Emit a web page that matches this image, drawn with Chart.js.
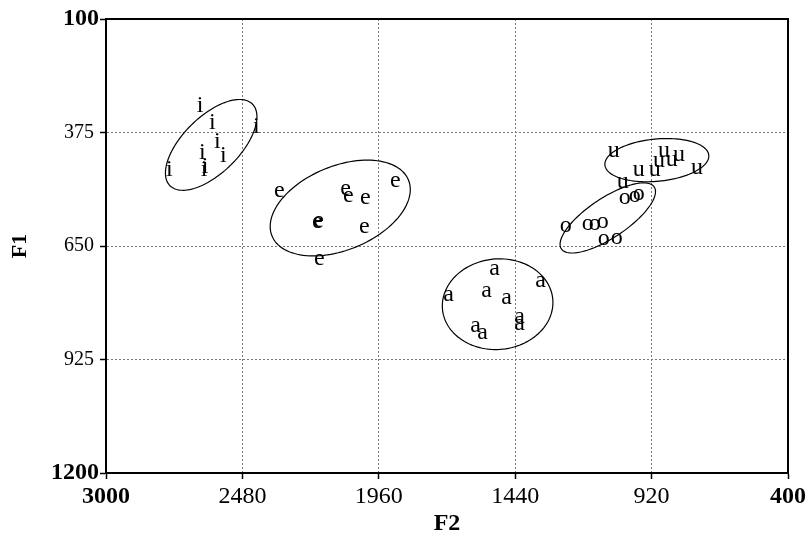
<!DOCTYPE html>
<html>
<head>
<meta charset="utf-8">
<script src="https://cdn.jsdelivr.net/npm/chart.js@4.4.0/dist/chart.umd.min.js"></script>
<style>
  html, body { margin: 0; padding: 0; background: #fff; }
  #wrap { width: 810px; height: 538px; }
</style>
</head>
<body>
<div id="wrap"><canvas id="chart" width="810" height="538"></canvas></div>
<script>
// axis ticks (Hz)
const F2_TICKS = [3000, 2480, 1960, 1440, 920, 400];
const F1_TICKS = [100, 375, 650, 925, 1200];

// vowel tokens, F2 and F1 in Hz
const I_F2 = [2641, 2595, 2427, 2576, 2633, 2553, 2759, 2626, 2622];
const I_F1 = [313, 352, 364, 400, 425, 434, 466, 466, 461];
const E_F2 = [2339, 2087, 2076, 2011, 1897, 2194, 2190, 2015, 2187];
const E_F1 = [519, 514, 529, 534, 493, 592, 590, 604, 682];
const A_F2 = [1519, 1343, 1694, 1549, 1473, 1423, 1423, 1591, 1564];
const A_F1 = [708, 735, 769, 761, 776, 824, 839, 846, 863];
const O_F2 = [1247, 1163, 1137, 1106, 1102, 1053, 1022, 984, 969];
const O_F1 = [602, 599, 597, 594, 635, 633, 536, 531, 526];
const U_F2 = [1064, 1030, 969, 908, 892, 873, 843, 816, 747];
const U_F1 = [420, 495, 466, 468, 446, 422, 444, 430, 463];

// ellipses: centre F2, centre F1, major axis (dF2, dF1), minor axis (dF2, dF1)
const I_ELL = [2599, 405, -157, -99, -76, 48];
const E_ELL = [2107, 558, -260, -68, -61, 94];
const A_ELL = [1507, 791, -210, -14, -19, 109];
const O_ELL = [1087, 582, -177, -75, -42, 40];
const U_ELL = [900, 442, -198, -12, -8, 51];

const VOWELS = [
  { letter: 'i', f2: I_F2, f1: I_F1, ell: I_ELL },
  { letter: 'e', f2: E_F2, f1: E_F1, ell: E_ELL },
  { letter: 'a', f2: A_F2, f1: A_F1, ell: A_ELL },
  { letter: 'o', f2: O_F2, f1: O_F1, ell: O_ELL },
  { letter: 'u', f2: U_F2, f1: U_F1, ell: U_ELL },
];

const SERIF = '"Liberation Serif", "Times New Roman", serif';

// ---- plugins ----
const frame = {
  id: 'frame',
  afterDraw(chart) {
    const { ctx, chartArea: a } = chart;
    ctx.save();
    ctx.strokeStyle = '#000';
    ctx.lineWidth = 2;
    ctx.strokeRect(a.left, a.top, a.right - a.left, a.bottom - a.top);
    ctx.restore();
  }
};

const ellipses = {
  id: 'ellipses',
  afterDatasetsDraw(chart) {
    const { ctx } = chart;
    const xs = chart.scales.x, ys = chart.scales.y;
    ctx.save();
    ctx.strokeStyle = '#000';
    ctx.lineWidth = 1.2;
    chart.data.datasets.forEach(ds => {
      const [cx, cy, ux, uy, vx, vy] = ds.ell;
      ctx.beginPath();
      for (let k = 0; k <= 120; k++) {
        const t = k / 120 * Math.PI * 2;
        const px = xs.getPixelForValue(cx + ux * Math.cos(t) + vx * Math.sin(t));
        const py = ys.getPixelForValue(cy + uy * Math.cos(t) + vy * Math.sin(t));
        k ? ctx.lineTo(px, py) : ctx.moveTo(px, py);
      }
      ctx.closePath();
      ctx.stroke();
    });
    ctx.restore();
  }
};

// vowel letters drawn at each point
const letters = {
  id: 'letters',
  afterDatasetsDraw(chart) {
    const { ctx } = chart;
    ctx.save();
    ctx.font = '24px ' + SERIF;
    ctx.fillStyle = '#000';
    ctx.textAlign = 'center';
    ctx.textBaseline = 'alphabetic';
    chart.data.datasets.forEach((ds, i) => {
      chart.getDatasetMeta(i).data.forEach(pt => {
        ctx.fillText(ds.letter, pt.x, pt.y + 5.5);
      });
    });
    ctx.restore();
  }
};

const isEnd = (v, ticks) => v === ticks[0] || v === ticks[ticks.length - 1];

new Chart(document.getElementById('chart'), {
  type: 'scatter',
  data: {
    datasets: VOWELS.map(v => ({
      label: v.letter,
      letter: v.letter,
      ell: v.ell,
      data: v.f2.map((x, i) => ({ x, y: v.f1[i] })),
      pointRadius: 0,
      pointHoverRadius: 0,
    }))
  },
  options: {
    responsive: false,
    animation: false,
    devicePixelRatio: 1,
    layout: { padding: { top: 19, right: 22, left: 0, bottom: 0 } },
    plugins: {
      legend: { display: false },
      tooltip: { enabled: false },
    },
    scales: {
      x: {
        type: 'linear',
        reverse: true,
        min: 400, max: 3000,
        afterBuildTicks: s => { s.ticks = F2_TICKS.map(value => ({ value })); },
        afterFit: s => { s.height = 65; },
        grid: {
          color: c => isEnd(c.tick && c.tick.value, F2_TICKS) ? 'rgba(0,0,0,0)' : '#777',
          tickColor: '#000',
          tickLength: 6,
          tickWidth: 1.5,
        },
        border: { color: '#000', width: 2, dash: [2, 2] },
        ticks: {
          color: '#000',
          padding: 3,
          maxRotation: 0,
          autoSkip: false,
          callback: v => String(v),
          font: c => ({ family: SERIF, size: 24, weight: isEnd(c.tick && c.tick.value, F2_TICKS) ? 'bold' : 'normal' }),
        },
        title: {
          display: true, text: 'F2', color: '#000',
          font: { family: SERIF, size: 24, weight: 'bold' },
          padding: { top: 0, bottom: 0 },
        },
      },
      y: {
        type: 'linear',
        reverse: true,
        min: 100, max: 1200,
        afterBuildTicks: s => { s.ticks = F1_TICKS.map(value => ({ value })); },
        afterFit: s => { s.width = 106; },
        grid: {
          color: c => isEnd(c.tick && c.tick.value, F1_TICKS) ? 'rgba(0,0,0,0)' : '#777',
          tickColor: '#000',
          tickLength: 6,
          tickWidth: 1.5,
        },
        border: { color: '#000', width: 2, dash: [2, 2] },
        ticks: {
          color: '#000',
          padding: 1,
          autoSkip: false,
          callback: v => isEnd(v, F1_TICKS) ? String(v) : v + ' ',
          font: c => ({ family: SERIF, size: isEnd(c.tick && c.tick.value, F1_TICKS) ? 24 : 20, weight: isEnd(c.tick && c.tick.value, F1_TICKS) ? 'bold' : 'normal' }),
        },
        title: {
          display: true, text: 'F1', color: '#000',
          font: { family: SERIF, size: 22, weight: 'bold' },
          padding: { top: 7, bottom: 0 },
        },
      },
    },
  },
  plugins: [ellipses, letters, frame],
});
</script>
</body>
</html>
